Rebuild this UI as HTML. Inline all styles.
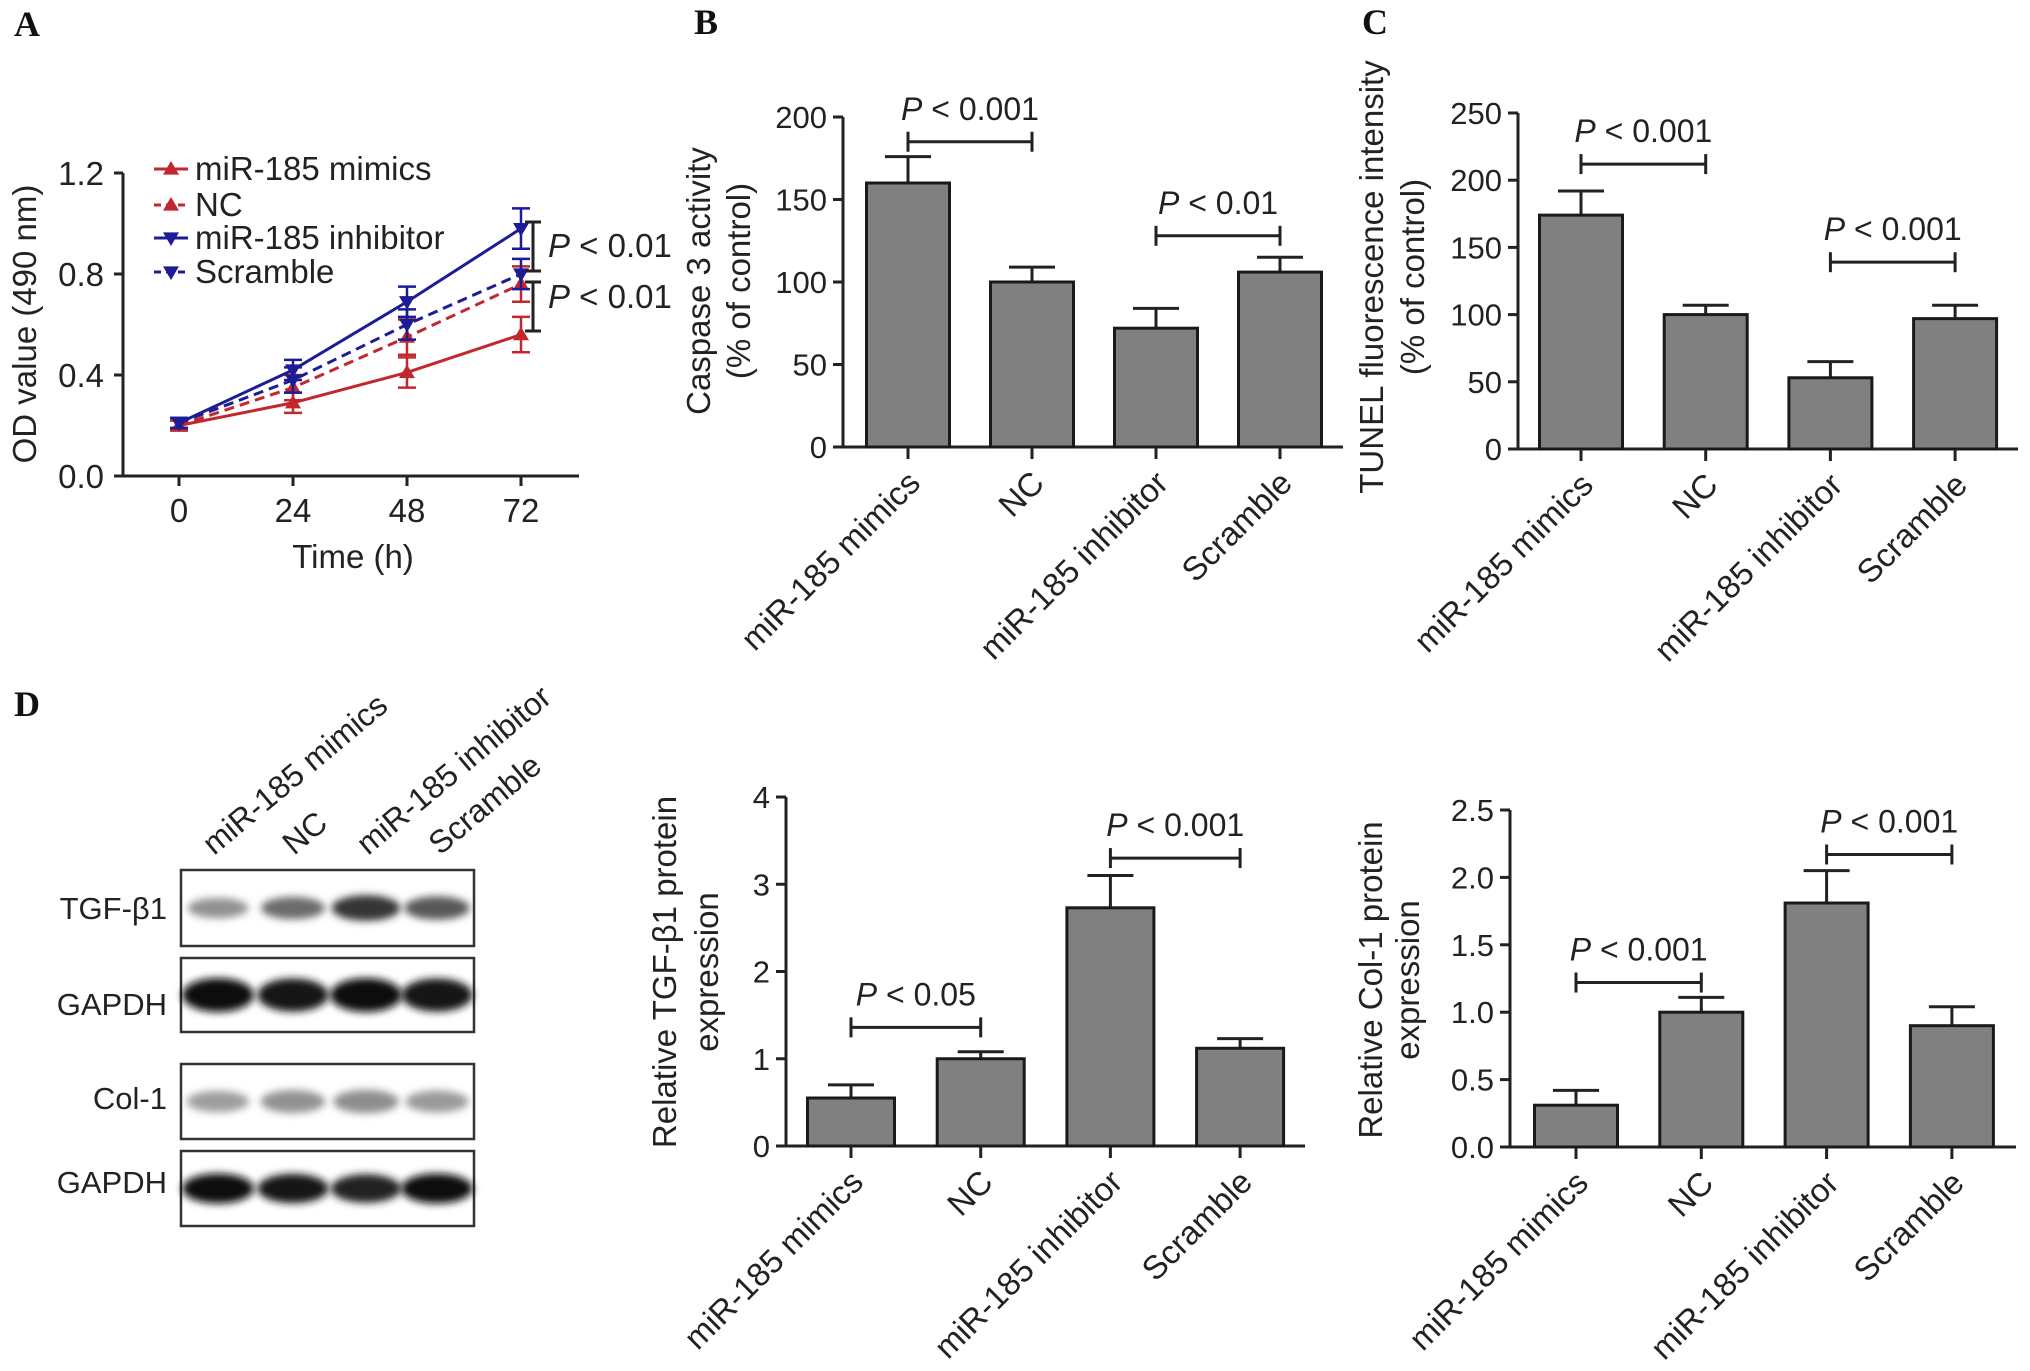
<!DOCTYPE html>
<html><head><meta charset="utf-8"><style>
html,body{margin:0;padding:0;background:#fff}
svg{display:block}
text{font-family:"Liberation Sans",sans-serif;fill:#222}
.lbl{font-family:"Liberation Serif",serif;font-weight:bold;fill:#111}
</style></head><body>
<svg id="fig" width="2030" height="1371" viewBox="0 0 2030 1371" xmlns="http://www.w3.org/2000/svg">
<defs><filter id="blur" x="-20%" y="-50%" width="140%" height="200%"><feGaussianBlur stdDeviation="4"/></filter></defs>
<text class="lbl" x="14" y="36" font-size="36">A</text>
<text class="lbl" x="694" y="34" font-size="36">B</text>
<text class="lbl" x="1362" y="34" font-size="36">C</text>
<text class="lbl" x="14" y="716" font-size="36">D</text>
</svg>
<script>
// ---------- Panel A data ----------
const timeCats = [0, 24, 48, 72];
const odTicks = [0.0, 0.4, 0.8, 1.2];
const seriesNames = ["miR-185 mimics", "NC", "miR-185 inhibitor", "Scramble"];
const mimicsOD = [0.20, 0.29, 0.41, 0.56];
const mimicsErr = [0.02, 0.04, 0.06, 0.07];
const ncOD = [0.20, 0.35, 0.55, 0.76];
const ncErr = [0.02, 0.05, 0.07, 0.07];
const inhibitorOD = [0.21, 0.42, 0.69, 0.98];
const inhibitorErr = [0.02, 0.04, 0.06, 0.08];
const scrambleOD = [0.21, 0.38, 0.60, 0.80];
const scrambleErr = [0.02, 0.05, 0.06, 0.06];

// ---------- Bar chart data ----------
const groups = ["miR-185 mimics", "NC", "miR-185 inhibitor", "Scramble"];
const caspaseVals = [160, 100, 72, 106];
const caspaseErr = [16, 9, 12, 9];
const caspaseTicks = [0, 50, 100, 150, 200];
const caspaseTickLabels = ["0", "50", "100", "150", "200"];
const tunelVals = [174, 100, 53, 97];
const tunelErr = [18, 7, 12, 10];
const tunelTicks = [0, 50, 100, 150, 200, 250];
const tunelTickLabels = ["0", "50", "100", "150", "200", "250"];
const tgfVals = [0.55, 1.0, 2.73, 1.12];
const tgfErr = [0.15, 0.08, 0.37, 0.11];
const tgfTicks = [0, 1, 2, 3, 4];
const tgfTickLabels = ["0", "1", "2", "3", "4"];
const colVals = [0.31, 1.0, 1.81, 0.90];
const colErr = [0.11, 0.11, 0.24, 0.14];
const colTicks = [0, 0.5, 1.0, 1.5, 2.0, 2.5];
const colTickLabels = ["0.0", "0.5", "1.0", "1.5", "2.0", "2.5"];

// ---------- Blot data (band intensity 0-1) ----------
const blotRows = ["TGF-β1", "GAPDH", "Col-1", "GAPDH"];
const tgfBand = [0.3, 0.5, 0.8, 0.6];
const gapdh1Band = [1.0, 0.95, 1.0, 0.95];
const colBand = [0.4, 0.55, 0.6, 0.45];
const gapdh2Band = [1.0, 0.95, 0.9, 1.0];

const svg = document.getElementById('fig');
const NS = 'http://www.w3.org/2000/svg';
function mk(tag, attrs, parent) {
  const e = document.createElementNS(NS, tag);
  for (const k in attrs) e.setAttribute(k, attrs[k]);
  (parent || svg).appendChild(e);
  return e;
}
function txt(str, attrs, parent) { const t = mk('text', attrs, parent); t.textContent = str; return t; }

// ================= Panel A =================
(function(){
  const g = mk('g', {});
  
  
  const x0 = 123, xEnd = 579, yBase = 476, yTop = 173;
  const xs = v => 179 + (v / 72) * (521 - 179);
  const ys = v => yBase - (v / 1.2) * (yBase - yTop);
  let l = mk('line', {x1:x0, y1:yTop, x2:x0, y2:yBase, stroke:'#222', 'stroke-width':3}, g);
   
  l = mk('line', {x1:114, y1:yBase, x2:xEnd, y2:yBase, stroke:'#222', 'stroke-width':3}, g);
   
  odTicks.forEach(v => {
    mk('line', {x1:114, y1:ys(v), x2:x0, y2:ys(v), stroke:'#222', 'stroke-width':3}, g);
    const t = txt(v.toFixed(1), {x:104, y:ys(v)+12, 'font-size':33, 'text-anchor':'end'}, g);
     
  });
  timeCats.forEach(v => {
    mk('line', {x1:xs(v), y1:yBase, x2:xs(v), y2:yBase+10, stroke:'#222', 'stroke-width':3}, g);
    const t = txt(String(v), {x:xs(v), y:522, 'font-size':33, 'text-anchor':'middle'}, g);
     
  });
  let t = txt('Time (h)', {x:353, y:568, 'font-size':33, 'text-anchor':'middle'}, g);
   
  t = txt('OD value (490 nm)', {x:0, y:0, 'font-size':33, 'text-anchor':'middle', transform:'translate(36,324) rotate(-90)'}, g);
   

  const red = '#c1272d', blue = '#1c1c96';
  const series = [
    {vals:mimicsOD, err:mimicsErr, color:red, dash:null, up:true},
    {vals:ncOD, err:ncErr, color:red, dash:'10,6', up:true},
    {vals:inhibitorOD, err:inhibitorErr, color:blue, dash:null, up:false},
    {vals:scrambleOD, err:scrambleErr, color:blue, dash:'10,6', up:false}
  ];
  function marker(cx, cy, up, color, parent) {
    const s = 8;
    const pts = up ? `${cx},${cy-s} ${cx-s},${cy+s*0.7} ${cx+s},${cy+s*0.7}` : `${cx},${cy+s} ${cx-s},${cy-s*0.7} ${cx+s},${cy-s*0.7}`;
    return mk('polygon', {points:pts, fill:color}, parent);
  }
  series.forEach((s, i) => {
    const sg = mk('g', {}, g);
    
    
    const d = s.vals.map((v, j) => (j ? 'L' : 'M') + xs(timeCats[j]) + ',' + ys(v)).join(' ');
    const p = mk('path', {d, fill:'none', stroke:s.color, 'stroke-width':3}, sg);
    if (s.dash) p.setAttribute('stroke-dasharray', s.dash);
    s.vals.forEach((v, j) => {
      const x = xs(timeCats[j]);
      const e1 = ys(v + s.err[j]), e2 = ys(v - s.err[j]);
      mk('line', {x1:x, y1:e1, x2:x, y2:e2, stroke:s.color, 'stroke-width':2.5}, sg);
      mk('line', {x1:x-9, y1:e1, x2:x+9, y2:e1, stroke:s.color, 'stroke-width':2.5}, sg);
      mk('line', {x1:x-9, y1:e2, x2:x+9, y2:e2, stroke:s.color, 'stroke-width':2.5}, sg);
      const m = marker(x, ys(v), s.up, s.color, sg);
       
    });
    const ly = [180, 216, 249, 283][i];
    const lg = mk('g', {}, g);
    
    
    const ll = mk('line', {x1:154, y1:ly-11, x2:188, y2:ly-11, stroke:s.color, 'stroke-width':3}, lg);
    if (s.dash) ll.setAttribute('stroke-dasharray', '7,5');
    marker(171, ly-11, s.up, s.color, lg);
    txt(seriesNames[i], {x:195, y:ly, 'font-size':33}, lg);
  });
  [[222,271,257],[282,331,308]].forEach(b => {
    const bg = mk('g', {}, g);
    
    
    mk('line', {x1:533, y1:b[0], x2:533, y2:b[1], stroke:'#222', 'stroke-width':3}, bg);
    mk('line', {x1:525, y1:b[0], x2:541, y2:b[0], stroke:'#222', 'stroke-width':3}, bg);
    mk('line', {x1:525, y1:b[1], x2:541, y2:b[1], stroke:'#222', 'stroke-width':3}, bg);
    const t = txt('', {x:548, y:b[2], 'font-size':33}, bg);
    t.innerHTML = '<tspan font-style="italic">P</tspan> &lt; 0.01';
  });
})();

// ================= Bar charts =================
function barChart(cfg, vals, errs, ticks, tickLabels) {
  const g = mk('g', {});
  
  
  const ys = v => cfg.yBase - (v / cfg.max) * (cfg.yBase - cfg.yTop);
  let l = mk('line', {x1:cfg.ax, y1:cfg.yTop, x2:cfg.ax, y2:cfg.yBase, stroke:'#222', 'stroke-width':3}, g);
   
  l = mk('line', {x1:cfg.ax-8, y1:cfg.yBase, x2:cfg.xEnd, y2:cfg.yBase, stroke:'#222', 'stroke-width':3}, g);
   
  ticks.forEach((v, i) => {
    mk('line', {x1:cfg.ax-10, y1:ys(v), x2:cfg.ax, y2:ys(v), stroke:'#222', 'stroke-width':3}, g);
    const t = txt(tickLabels[i], {x:cfg.ax-16, y:ys(v)+11, 'font-size':31, 'text-anchor':'end'}, g);
     
  });
  const xs = i => cfg.x0 + i * cfg.step;
  vals.forEach((v, i) => {
    const x = xs(i);
    const bw = cfg.bw;
    const top = ys(v), et = ys(v + errs[i]);
    mk('line', {x1:x, y1:top, x2:x, y2:et, stroke:'#222', 'stroke-width':3}, g);
    mk('line', {x1:x-23, y1:et, x2:x+23, y2:et, stroke:'#222', 'stroke-width':3}, g);
    const r = mk('rect', {x:x-bw/2, y:top, width:bw, height:cfg.yBase-top, fill:'#808080', stroke:'#1a1a1a', 'stroke-width':3}, g);
    
    
    mk('line', {x1:x, y1:cfg.yBase, x2:x, y2:cfg.yBase+12, stroke:'#222', 'stroke-width':3}, g);
    const t = txt(groups[i], {x:0, y:0, 'font-size':33, 'text-anchor':'end', transform:`translate(${x+14},${cfg.yBase+38}) rotate(-45)`}, g);
     
  });
  cfg.titles.forEach((s, i) => {
    const t = txt(s, {x:0, y:0, 'font-size':33, 'text-anchor':'middle', transform:`translate(${cfg.titleX[i]-2},${cfg.titleY}) rotate(-90)`}, g);
     
  });
  cfg.brackets.forEach(b => {
    const bg = mk('g', {}, g);
    
    
    const xa = xs(b.a), xb = xs(b.b), y = ys(b.y);
    mk('line', {x1:xa, y1:y, x2:xb, y2:y, stroke:'#222', 'stroke-width':3}, bg);
    mk('line', {x1:xa, y1:y-10, x2:xa, y2:y+10, stroke:'#222', 'stroke-width':3}, bg);
    mk('line', {x1:xb, y1:y-10, x2:xb, y2:y+10, stroke:'#222', 'stroke-width':3}, bg);
    const t = txt('', {x:(xa+xb)/2, y:y-22, 'font-size':32, 'text-anchor':'middle'}, bg);
    t.innerHTML = '<tspan font-style="italic">P</tspan> &lt; ' + b.p;
  });
}
barChart({name:'panel-b-caspase-chart', ax:843, xEnd:1343, yBase:447, yTop:117, max:200, x0:908, step:124, bw:83,
  titles:['Caspase 3 activity','(% of control)'], titleX:[712,752], titleY:281,
  brackets:[{a:0,b:1,y:185,p:'0.001'},{a:2,b:3,y:128,p:'0.01'}]}, caspaseVals, caspaseErr, caspaseTicks, caspaseTickLabels);
barChart({name:'panel-c-tunel-chart', ax:1518, xEnd:2018, yBase:449, yTop:113, max:250, x0:1581, step:124.7, bw:83,
  titles:['TUNEL fluorescence intensity','(% of control)'], titleX:[1385,1426], titleY:277,
  brackets:[{a:0,b:1,y:212,p:'0.001'},{a:2,b:3,y:139,p:'0.001'}]}, tunelVals, tunelErr, tunelTicks, tunelTickLabels);
barChart({name:'panel-d-tgf-chart', ax:786, xEnd:1305, yBase:1146, yTop:797, max:4, x0:851, step:129.7, bw:87,
  titles:['Relative TGF-β1 protein','expression'], titleX:[678,720], titleY:972,
  brackets:[{a:0,b:1,y:1.36,p:'0.05'},{a:2,b:3,y:3.3,p:'0.001'}]}, tgfVals, tgfErr, tgfTicks, tgfTickLabels);
barChart({name:'panel-d-col1-chart', ax:1510, xEnd:2016, yBase:1147, yTop:810, max:2.5, x0:1576, step:125.3, bw:83,
  titles:['Relative Col-1 protein','expression'], titleX:[1384,1421], titleY:980,
  brackets:[{a:0,b:1,y:1.22,p:'0.001'},{a:2,b:3,y:2.17,p:'0.001'}]}, colVals, colErr, colTicks, colTickLabels);

// ================= Western blot =================
(function(){
  const g = mk('g', {});
  
  
  const lanes = [218, 293, 366, 437];
  const laneAnchor = [[214,856],[294,856],[368,856],[440,856]];
  groups.forEach((n, i) => {
    const t = txt(n, {x:0, y:0, 'font-size':32, transform:`translate(${laneAnchor[i][0]},${laneAnchor[i][1]}) rotate(-40)`}, g);
     
  });
  const boxes = [[870,946,919,tgfBand,20,0],[958,1032,1015,gapdh1Band,26,0],[1064,1139,1109,colBand,20,1],[1151,1226,1193,gapdh2Band,22,0]];
  boxes.forEach((b, r) => {
    const bg = mk('g', {}, g);
    
    
    mk('rect', {x:181, y:b[0], width:293, height:b[1]-b[0], fill:'#fff', stroke:'#333', 'stroke-width':2.5}, bg);
    const cy = (b[0]+b[1])/2;
    b[3].forEach((v, i) => {
      const shade = b[5] ? Math.round(190 - v*80) : Math.round(200 - v*185);
      const e = mk('ellipse', {cx:lanes[i], cy:cy, rx:28+v*8, ry:b[4]*(0.45+v*0.55)/2+4, fill:`rgb(${shade},${shade},${shade})`, filter:'url(#blur)'}, bg);
       
    });
    const t = txt(blotRows[r], {x:167, y:b[2], 'font-size':31, 'text-anchor':'end'}, bg);
     
  });
})();
</script>
</body></html>
